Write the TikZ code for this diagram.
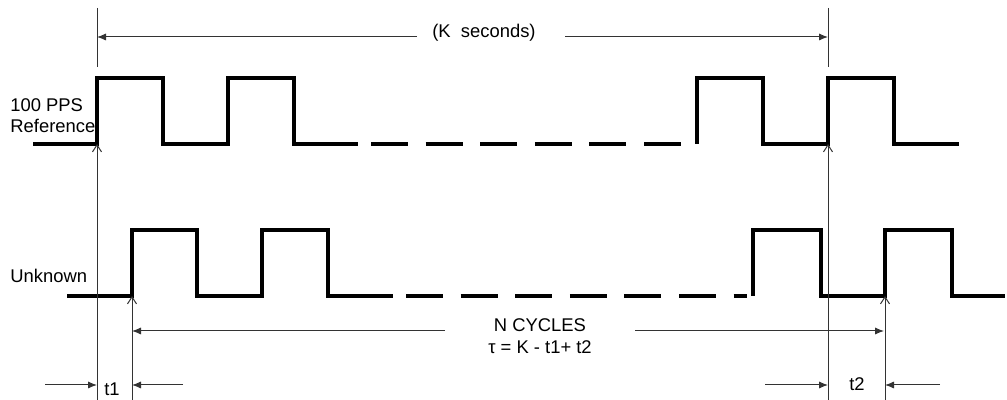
\documentclass[tikz,border=0pt]{standalone}
\usepackage{fontspec}
\setmainfont{Liberation Sans}
\usetikzlibrary{arrows, arrows.meta, positioning}

\tikzset{
  wave/.style={line width=2pt},
  gap/.style={line width=2pt, dash pattern=on 18.5pt off 8.8pt},
  dimline/.style={line width=0.5pt, draw=black!80},
  solidtip/.style={-{Latex[length=4.5pt,width=3.6pt]}},
  opentip/.style={-{Straight Barb[length=3.5pt,width=4.5pt]}},
  lbl/.style={font=\fontsize{9.2}{10.5}\selectfont, inner sep=1pt}
}

\begin{document}
\begin{tikzpicture}[x=0.5pt, y=-0.5pt]
\useasboundingbox (0,0) rectangle (1007,400);

% edges
\coordinate (r1) at (97,144);
\coordinate (r2) at (828,144);
\coordinate (u1) at (132,296);
\coordinate (u2) at (885,296);

% 100 PPS reference
\draw[wave] (33,144) -- (r1) -- (97,78) -- (163,78) -- (163,144) -- (228,144) -- (228,78) -- (294,78) -- (294,144) -- (358,144);
\draw[gap] (371,144) -- (681,144);
\draw[wave] (697,144) -- (697,78) -- (763,78) -- (763,144) -- (r2) -- (828,78) -- (894,78) -- (894,144) -- (959,144);

% unknown
\draw[wave] (67,296) -- (u1) -- (132,230) -- (197,230) -- (197,296) -- (262,296) -- (262,230) -- (328,230) -- (328,296) -- (393,296);
\draw[gap] (406,296) -- (747,296);
\draw[wave] (753,296) -- (753,230) -- (821,230) -- (821,296) -- (u2) -- (885,230) -- (952,230) -- (952,296) -- (1005,296);

\node[lbl, anchor=west, align=left] (refname) at (8,116) {100 PPS\\Reference};
\node[lbl, anchor=west] (unkname) at (8,276) {Unknown};

% marker lines
\draw[dimline] (97,8) -- (97,67);
\draw[dimline] (828,8) -- (828,67);
\draw[dimline, opentip] (97,400) -- (r1);
\draw[dimline, opentip] (828,400) -- (r2);
\draw[dimline, opentip] (132,400) -- (u1);
\draw[dimline, opentip] (885,400) -- (u2);

% K seconds
\node[lbl] (ksec) at (484,33) {(K\ \ seconds)};
\coordinate (kl) at (417,37);
\coordinate (kr) at (565,37);
\draw[dimline, solidtip] (kl) -- (97,37);
\draw[dimline, solidtip] (kr) -- (828,37);

% N cycles
\node[lbl, align=center, font=\fontsize{9.2}{11}\selectfont] (ncyc) at (540,336) {N CYCLES\\τ = K - t1+ t2};
\coordinate (nl) at (445,331);
\coordinate (nr) at (635,331);
\draw[dimline, solidtip] (nl) -- (132,331);
\draw[dimline, solidtip] (nr) -- (884,331);

% t1, t2
\node[lbl] (tone) at (112,389) {t1};
\node[lbl] (ttwo) at (857,384) {t2};
\draw[dimline, solidtip] (45,385) -- (97,385);
\draw[dimline, solidtip] (183,385) -- (132,385);
\draw[dimline, solidtip] (765,385) -- (828,385);
\draw[dimline, solidtip] (940,385) -- (885,385);

\end{tikzpicture}
\end{document}
